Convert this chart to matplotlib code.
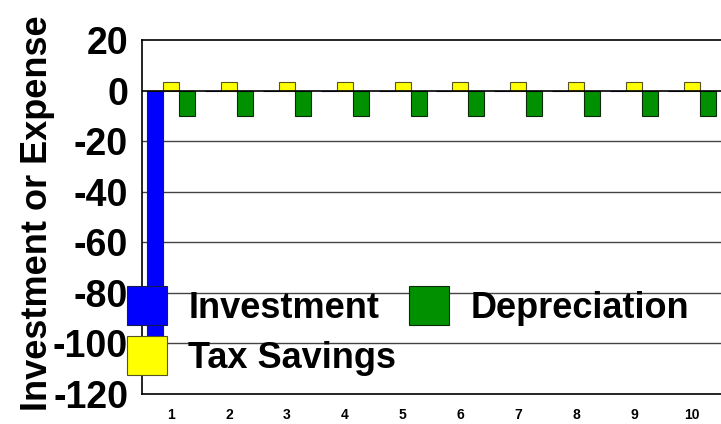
import numpy as np
import matplotlib
matplotlib.use('Agg')
import matplotlib.pyplot as plt

plt.rcParams['font.family'] = ['Liberation Sans', 'DejaVu Sans']
plt.rcParams['font.weight'] = 'bold'
plt.rcParams['axes.unicode_minus'] = False

years = [1, 2, 3, 4, 5, 6, 7, 8, 9, 10]
investment = [-100, 0, 0, 0, 0, 0, 0, 0, 0, 0]
tax_savings = [3.5, 3.5, 3.5, 3.5, 3.5, 3.5, 3.5, 3.5, 3.5, 3.5]
depreciation = [-10, -10, -10, -10, -10, -10, -10, -10, -10, -10]

fig = plt.figure(figsize=(7.21, 4.24), dpi=100)
ax = fig.add_axes([142 / 721, 30 / 424, 579 / 721, 354 / 424])

x = np.array(years)
w = 0.276
ax.bar(x - w, investment, w, color='#0000ff', edgecolor='#1a1a4a', lw=0.8,
       label='Investment', zorder=3)
ax.bar(x, tax_savings, w, color='#ffff00', edgecolor='#555522', lw=0.8,
       label='Tax Savings', zorder=3)
ax.bar(x + w, depreciation, w, color='#009000', edgecolor='#0a2a0a', lw=0.8,
       label='Depreciation', zorder=3)

ax.set_xlim(0.5, 10.5)
ax.set_ylim(-120, 20)
ax.set_yticks(range(-120, 21, 20))
ax.set_xticks(years)
ax.tick_params(axis='y', length=0, pad=10, labelsize=27)
ax.tick_params(axis='x', length=0, pad=10, labelsize=10)
for t in ax.get_yticklabels() + ax.get_xticklabels():
    t.set_fontweight('bold')

for v in range(-100, 0, 20):
    ax.axhline(v, color='#444444', lw=1, zorder=1)
ax.axhline(0, color='black', lw=1.2, zorder=4)
ax.spines['right'].set_visible(False)
for s in ['top', 'left', 'bottom']:
    ax.spines[s].set_linewidth(1.2)

ax.set_ylabel('Investment or Expense', fontsize=26, fontweight='bold')
ax.yaxis.set_label_coords(-0.15, 0.51)

handles, labels = ax.get_legend_handles_labels()
leg = fig.legend(handles, labels,
                 loc='upper left', bbox_to_anchor=(127 / 721, 1 - 286 / 424),
                 ncol=2, frameon=False, fontsize=26, borderpad=0,
                 borderaxespad=0, handlelength=1.1, handleheight=1.3,
                 handletextpad=0.6, columnspacing=0.35, labelspacing=0.28)
for t in leg.get_texts():
    t.set_fontweight('bold')

fig.savefig('out.png', dpi=100)
